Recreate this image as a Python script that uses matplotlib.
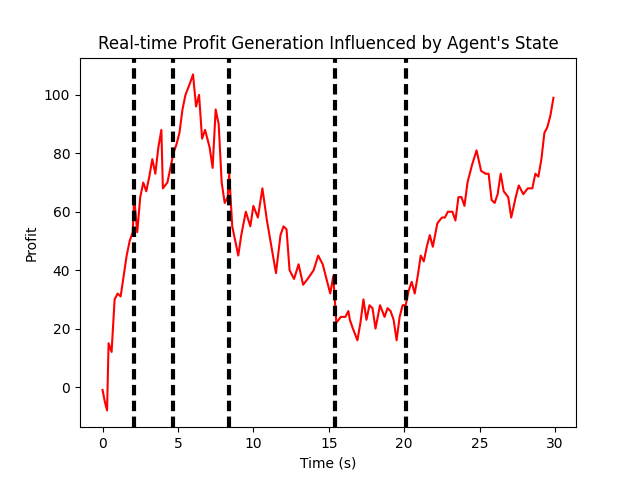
import numpy as np
import matplotlib
matplotlib.use('Agg')
import matplotlib.pyplot as plt

# Datos
tiempo = [0.0, 0.15, 0.3, 0.4, 0.6, 0.8, 1.0, 1.2, 1.4, 1.6, 1.8, 2.0, 2.1, 2.3, 2.5, 2.7,
          2.9, 3.1, 3.3, 3.5, 3.7, 3.9, 4.0, 4.3, 4.5, 4.7, 4.9, 5.1, 5.3, 5.5, 5.8, 6.0,
          6.2, 6.4, 6.6, 6.8, 7.1, 7.3, 7.5, 7.7, 7.9, 8.1, 8.3, 8.4, 8.6, 8.8, 9.0, 9.2,
          9.5, 9.8, 10.0, 10.3, 10.6, 10.9, 11.2, 11.5, 11.8, 12.0, 12.2, 12.4, 12.7, 13.0,
          13.3, 13.6, 14.0, 14.3, 14.6, 14.9, 15.1, 15.3, 15.5, 15.8, 16.1, 16.3, 16.4, 16.6,
          16.9, 17.1, 17.3, 17.5, 17.7, 17.9, 18.1, 18.4, 18.7, 18.9, 19.1, 19.3, 19.5, 19.7,
          19.9, 20.1, 20.3, 20.5, 20.7, 20.9, 21.1, 21.3, 21.5, 21.7, 21.9, 22.2, 22.5, 22.7,
          22.9, 23.2, 23.4, 23.6, 23.8, 24.0, 24.2, 24.5, 24.8, 25.1, 25.4, 25.6, 25.8, 26.0,
          26.2, 26.4, 26.6, 26.9, 27.1, 27.4, 27.6, 27.9, 28.2, 28.5, 28.7, 28.9, 29.1, 29.3,
          29.5, 29.7, 29.9]
beneficio = [-1, -5, -8, 15, 12, 30, 32, 31, 38, 45, 50, 53, 65, 53, 65, 70,
             67, 72, 78, 73, 82, 88, 68, 70, 75, 80, 83, 87, 95, 100, 104, 107,
             96, 100, 85, 88, 82, 75, 95, 90, 70, 63, 65, 73, 55, 50, 45, 52,
             60, 55, 62, 58, 68, 57, 48, 39, 52, 55, 54, 40, 37, 42,
             35, 37, 40, 45, 42, 36, 32, 38, 22, 24, 24, 26, 23, 20,
             16, 22, 30, 23, 28, 27, 20, 28, 24, 27, 26, 23, 16, 24,
             28, 28, 33, 36, 32, 38, 45, 43, 48, 52, 48, 56, 58, 58,
             60, 60, 57, 65, 65, 62, 70, 76, 81, 74, 73, 73, 64, 63,
             66, 73, 67, 65, 58, 65, 69, 66, 68, 68, 73, 72, 78, 87,
             89, 93, 99]
cambios_estado = [2.1, 4.7, 8.4, 15.4, 20.1]

fig, ax = plt.subplots(figsize=(6.4, 4.8), dpi=100)
ax.plot(tiempo, beneficio, color='red')
for t in cambios_estado:
    ax.axvline(t, color='black', linewidth=3, linestyle=(0, (2.5, 1.3)))
ax.set_title("Real-time Profit Generation Influenced by Agent's State")
ax.set_xlabel('Time (s)')
ax.set_ylabel('Profit')
plt.savefig('out.png', dpi=100)
